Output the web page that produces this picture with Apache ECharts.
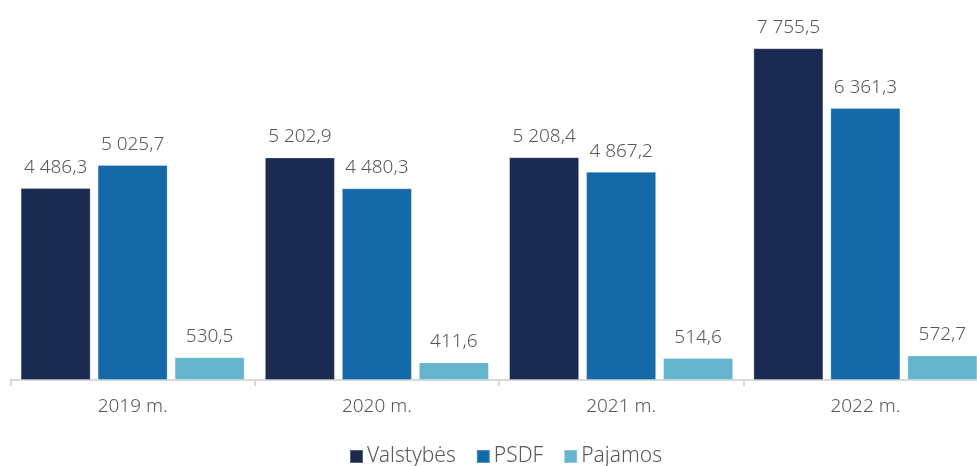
<!DOCTYPE html>
<html><head><meta charset="utf-8">
<script src="https://cdn.jsdelivr.net/npm/echarts@6/dist/echarts.min.js"></script>
<style>html,body{margin:0;padding:0;background:#fff}#c{width:977px;height:466px}</style>
</head><body><div id="c"></div>
<script>
const categories = ['2019 m.', '2020 m.', '2021 m.', '2022 m.'];
const seriesNames = ['Valstybės', 'PSDF', 'Pajamos'];
const valstybes = [4486.3, 5202.9, 5208.4, 7755.5];
const psdf = [5025.7, 4480.3, 4867.2, 6361.3];
const pajamos = [530.5, 411.6, 514.6, 572.7];
const colors = ['#1b2a50', '#1569a8', '#63b4cc'];
const FONT = "'Noto Sans', sans-serif";

function fmt(v) {
  const parts = v.toFixed(1).split('.');
  return parts[0].replace(/\B(?=(\d{3})+(?!\d))/g, ' ') + ',' + parts[1];
}
const chart = echarts.init(document.getElementById('c'));
const mk = (name, data, color) => ({
  name, type: 'bar', data, barWidth: 70, barGap: '10%',
  itemStyle: { color, borderColor: 'rgba(255,255,255,0.25)', borderWidth: 1 },
  label: { show: true, position: 'top', distance: 11, color: '#595959',
    fontFamily: FONT, fontWeight: 300, fontSize: 19,
    formatter: p => fmt(p.value) }
});
chart.setOption({
  animation: false,
  textStyle: { fontFamily: FONT },
  grid: { left: 10.5, width: 977, top: -5, bottom: 86, containLabel: false, outerBoundsMode: 'none' },
  legend: {
    bottom: -6, left: 344, icon: 'rect', itemWidth: 13, itemHeight: 13, itemGap: 20,
    textStyle: { color: '#595959', fontSize: 21, fontFamily: FONT, fontWeight: 300, padding: [0, 0, 0, -1] },
    data: seriesNames
  },
  xAxis: {
    type: 'category', data: categories,
    axisLine: { lineStyle: { color: '#d9d9d9', width: 2 } },
    axisTick: { show: true, length: 6, lineStyle: { color: '#d9d9d9', width: 2 } },
    axisLabel: { color: '#595959', fontSize: 19, fontFamily: FONT, fontWeight: 300, margin: 17 }
  },
  yAxis: { type: 'value', min: 0, max: 9000, show: false, splitLine: { show: false } },
  series: [mk(seriesNames[0], valstybes, colors[0]), mk(seriesNames[1], psdf, colors[1]), mk(seriesNames[2], pajamos, colors[2])]
});
</script></body></html>
